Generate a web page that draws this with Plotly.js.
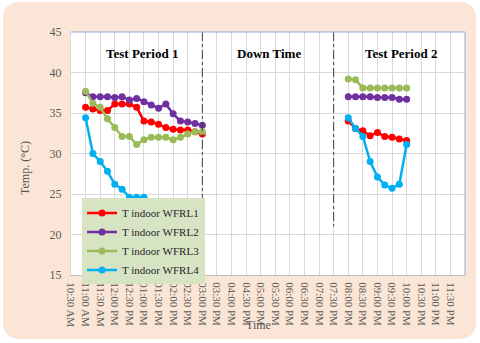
<!DOCTYPE html>
<html>
<head>
<meta charset="utf-8">
<script src="https://cdn.plot.ly/plotly-3.0.1.min.js"></script>
<style>
  html, body { margin: 0; padding: 0; background: #ffffff; }
  #wrap { position: relative; width: 480px; height: 343px; }
  #card { position: absolute; left: 3px; top: 2px; width: 473px; height: 337px; background: #fbe5d6; border-radius: 15px; }
  #chart { position: absolute; left: 0; top: 0; width: 480px; height: 343px; }
</style>
</head>
<body>
<div id="wrap"><div id="card"></div><div id="chart"></div></div>
<script>
// Time in hours of day
const period1Hours = [11.00, 11.25, 11.50, 11.75, 12.00, 12.25, 12.50, 12.75, 13.00, 13.25, 13.50, 13.75, 14.00, 14.25, 14.50, 14.75, 15.00];
const period2Hours = [20.00, 20.25, 20.50, 20.75, 21.00, 21.25, 21.50, 21.75, 22.00];

const wfrl1P1 = [35.7, 35.5, 35.3, 35.3, 36.1, 36.1, 36.1, 35.7, 34.0, 33.9, 33.6, 33.2, 33.0, 32.9, 32.9, 32.7, 32.4];
const wfrl2P1 = [37.5, 37.0, 37.0, 37.0, 36.9, 37.0, 36.6, 36.8, 36.4, 36.0, 35.6, 36.1, 34.9, 34.0, 33.9, 33.7, 33.5];
const wfrl3P1 = [37.7, 36.2, 35.7, 34.3, 33.2, 32.1, 32.1, 31.1, 31.7, 32.0, 32.0, 32.0, 31.7, 32.0, 32.4, 32.7, 32.7];
const wfrl4P1 = [34.4, 30.0, 29.0, 27.8, 26.2, 25.6, 24.6, 24.6, 24.6];

const wfrl1P2 = [34.0, 33.1, 32.8, 32.2, 32.6, 32.1, 32.0, 31.8, 31.6];
const wfrl2P2 = [37.0, 37.0, 37.0, 37.0, 36.9, 36.9, 36.9, 36.7, 36.7];
const wfrl3P2 = [39.2, 39.1, 38.1, 38.1, 38.1, 38.1, 38.1, 38.1, 38.1];
const wfrl4P2 = [34.4, 33.1, 32.1, 29.0, 27.1, 26.1, 25.7, 26.2, 31.1];

const seriesNames = ['T indoor WFRL1', 'T indoor WFRL2', 'T indoor WFRL3', 'T indoor WFRL4'];
const seriesColors = ['#ff0000', '#7030a0', '#9bbb59', '#00b0f0'];

const tickHours = [10.5, 11, 11.5, 12, 12.5, 13, 13.5, 14, 14.5, 15, 15.5, 16, 16.5, 17, 17.5, 18, 18.5, 19, 19.5, 20, 20.5, 21, 21.5, 22, 22.5, 23, 23.5];
const tickLabels = ['10:30 AM', '11:00 AM', '11:30 AM', '12:00 PM', '12:30 PM', '01:00 PM', '01:30 PM', '02:00 PM', '02:30 PM', '03:00 PM', '03:30 PM', '04:00 PM', '04:30 PM', '05:00 PM', '05:30 PM', '06:00 PM', '06:30 PM', '07:00 PM', '07:30 PM', '08:00 PM', '08:30 PM', '09:00 PM', '09:30 PM', '10:00 PM', '10:30 PM', '11:00 PM', '11:30 PM'];

const dividerHours = [15.0, 19.5];
const periodLabels = ['Test Period 1', 'Down Time', 'Test Period 2'];
const periodLabelHours = [12.93, 17.27, 21.81];

const p1 = [wfrl1P1, wfrl2P1, wfrl3P1, wfrl4P1];
const p2 = [wfrl1P2, wfrl2P2, wfrl3P2, wfrl4P2];

const traces = seriesNames.map((name, i) => {
  const x1 = period1Hours.slice(0, p1[i].length);
  return {
    type: 'scatter', mode: 'lines+markers', name: name,
    x: x1.concat([null]).concat(period2Hours),
    y: p1[i].concat([null]).concat(p2[i]),
    connectgaps: false,
    line: { color: seriesColors[i], width: 2.5 },
    marker: { color: seriesColors[i], size: 7 }
  };
});

const serif = 'Liberation Serif';

const shapes = dividerHours.map(h => ({
  type: 'line', xref: 'x', yref: 'y', x0: h, x1: h, y0: 45, y1: 21,
  line: { color: '#404040', width: 1, dash: 'dashdot' }
}));
shapes.push({ type: 'line', xref: 'paper', yref: 'paper', x0: 0, x1: 1, y0: 1, y1: 1, line: { color: '#8faadc', width: 1 } });
shapes.push({ type: 'line', xref: 'paper', yref: 'paper', x0: 1, x1: 1, y0: 0, y1: 1, line: { color: '#8faadc', width: 1 } });

const annotations = periodLabels.map((t, i) => ({
  x: periodLabelHours[i], y: 42.3, xref: 'x', yref: 'y', text: '<b>' + t + '</b>', showarrow: false,
  font: { family: serif, size: 13, color: '#000000' }
}));
annotations.push({ x: -0.117, y: 0.44, xref: 'paper', yref: 'paper', xanchor: 'center', yanchor: 'middle',
  text: 'Temp. (°C)', textangle: -90, showarrow: false,
  font: { family: serif, size: 12, color: '#595959' } });
annotations.push({ x: 0.475, y: -0.206, xref: 'paper', yref: 'paper', xanchor: 'center', yanchor: 'middle',
  text: 'Time', showarrow: false,
  font: { family: serif, size: 12, color: '#595959' } });

const layout = {
  width: 480, height: 343,
  margin: { l: 71, r: 15, t: 32, b: 68 },
  font: { family: serif, size: 12, color: '#595959' },
  paper_bgcolor: 'rgba(0,0,0,0)',
  plot_bgcolor: '#ffffff',
  showlegend: true,
  legend: {
    x: 0.028, y: 0.315, xanchor: 'left', yanchor: 'top',
    bgcolor: '#d7e4c4', borderwidth: 0,
    font: { family: serif, size: 11, color: '#262626' },
    tracegroupgap: 0, itemwidth: 30
  },
  xaxis: {
    range: [10.5, 24], tickmode: 'array', tickvals: tickHours, ticktext: tickLabels,
    tickangle: 90, tickfont: { family: serif, size: 11, color: '#595959' },
    showgrid: true, gridcolor: '#d9d9d9', gridwidth: 1,
    showline: true, linecolor: '#bfbfbf', linewidth: 1,
    ticks: '', zeroline: false, ticklabelstandoff: 4
  },
  yaxis: {
    range: [15, 45], dtick: 5, tick0: 15,
    tickfont: { family: serif, size: 12, color: '#595959' },
    showgrid: true, gridcolor: '#d9d9d9', gridwidth: 1,
    showline: true, linecolor: '#d9d9d9', linewidth: 1,
    ticks: '', zeroline: false, ticklabelstandoff: 6
  },
  shapes: shapes,
  annotations: annotations
};

Plotly.newPlot('chart', traces, layout, { displayModeBar: false, staticPlot: true });
</script>
</body>
</html>
